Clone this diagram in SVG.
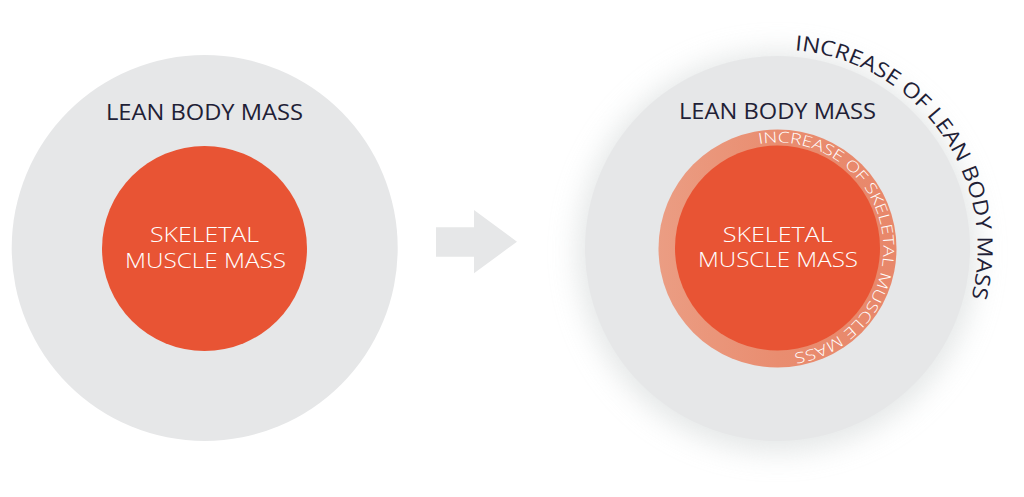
<svg xmlns="http://www.w3.org/2000/svg" width="1024" height="497" viewBox="0 0 1024 497">
  <style>
    .lean { fill: #e6e7e8; }
    .muscle { fill: #e85434; }
    .dark { font-family: "Open Sans", "Liberation Sans", sans-serif; font-size: 21px; fill: #1f2136; }
    .white { font-family: "Open Sans", "Liberation Sans", sans-serif; font-size: 20px; font-weight: 300; fill: #ffffff; }
    .ringtxt { font-family: "Open Sans", "Liberation Sans", sans-serif; font-size: 15px; font-weight: 300; fill: #ffffff; }
  </style>
  <defs>
    <filter id="glow" x="-30%" y="-30%" width="160%" height="160%">
      <feGaussianBlur stdDeviation="14"/>
    </filter>
    <linearGradient id="ringGrad" x1="0" y1="0" x2="1" y2="0">
      <stop offset="0" stop-color="#eb9d83"/>
      <stop offset="0.5" stop-color="#e98d70"/>
      <stop offset="1" stop-color="#e8876a"/>
    </linearGradient>
    <path id="innerArc" d="M 759.09 144.11 A 106 106 0 1 1 759.09 352.89"/>
    <path id="outerArc" d="M 794.84 50.26 A 199 199 0 1 1 760.16 446.74"/>
  </defs>

  <g id="before">
    <g id="lean-left">
      <circle class="lean" cx="204.7" cy="248" r="193"/>
      <text class="dark" x="204.5" y="120" text-anchor="middle" textLength="197" lengthAdjust="spacingAndGlyphs">LEAN BODY MASS</text>
    </g>
    <g id="muscle-left">
      <circle class="muscle" cx="204.5" cy="248.5" r="102.5"/>
      <text class="white" x="204.5" y="241.7" text-anchor="middle" textLength="109" lengthAdjust="spacingAndGlyphs">SKELETAL</text>
      <text class="white" x="205.5" y="267.7" text-anchor="middle" textLength="161" lengthAdjust="spacingAndGlyphs">MUSCLE MASS</text>
    </g>
  </g>

  <g id="connectors">
    <polygon id="arrow" fill="#e6e7e8" points="436,227.3 474,227.3 474,210 517,241.7 474,273.3 474,256.7 436,256.7"/>
  </g>

  <g id="after">
    <g id="lean-right">
      <circle cx="777.5" cy="252" r="200" fill="#cfd4d4" opacity="0.55" filter="url(#glow)"/>
      <circle class="lean" cx="777.5" cy="248.5" r="192.5"/>
      <text class="dark" x="777.5" y="119" text-anchor="middle" textLength="197" lengthAdjust="spacingAndGlyphs">LEAN BODY MASS</text>
    </g>
    <g id="increase-lean">
      <text class="dark"><textPath href="#outerArc" textLength="346" lengthAdjust="spacingAndGlyphs">INCREASE OF LEAN BODY MASS</textPath></text>
    </g>
    <g id="increase-muscle">
      <circle cx="777.5" cy="248.5" r="119" fill="url(#ringGrad)"/>
      <text class="ringtxt"><textPath href="#innerArc" textLength="335" lengthAdjust="spacingAndGlyphs">INCREASE OF SKELETAL MUSCLE MASS</textPath></text>
    </g>
    <g id="muscle-right">
      <circle class="muscle" cx="777.5" cy="248" r="102.5"/>
      <text class="white" x="777.7" y="241.7" text-anchor="middle" textLength="110" lengthAdjust="spacingAndGlyphs">SKELETAL</text>
      <text class="white" x="778" y="267" text-anchor="middle" textLength="160" lengthAdjust="spacingAndGlyphs">MUSCLE MASS</text>
    </g>
  </g>
</svg>
